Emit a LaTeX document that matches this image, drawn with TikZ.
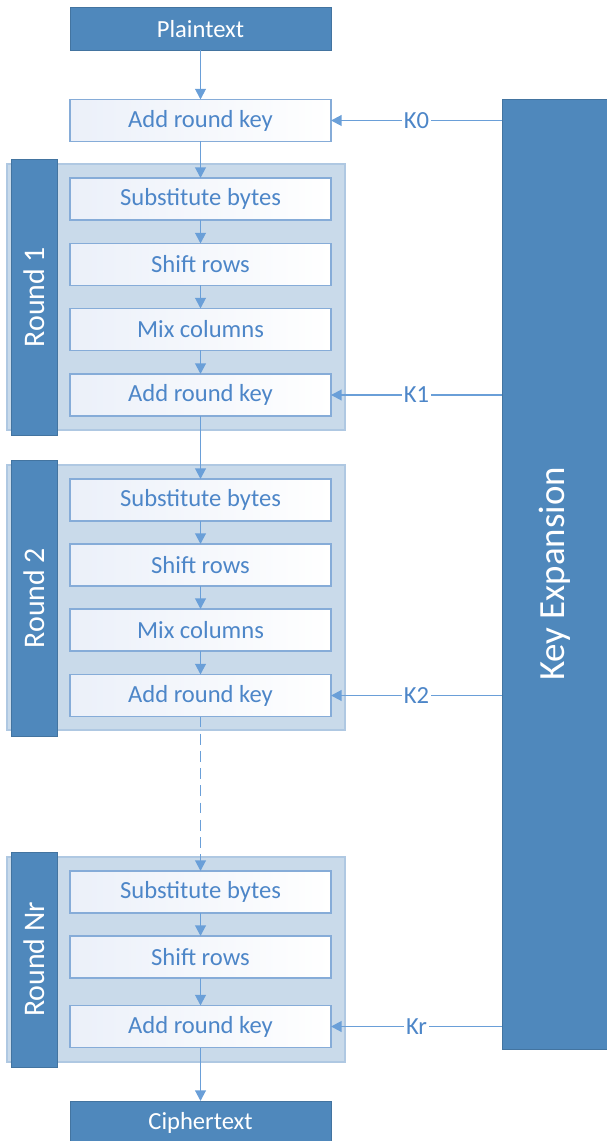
\documentclass[tikz,border=0pt]{standalone}
\usepackage{fontspec}
\setmainfont{Carlito}
\usepackage{xcolor}
\usetikzlibrary{arrows.meta, positioning}
\definecolor{darkblue}{HTML}{4F88BC}
\definecolor{groupfill}{HTML}{C9DAEA}
\definecolor{groupline}{HTML}{AFC8E2}
\definecolor{boxline}{HTML}{86ACD8}
\definecolor{boxshade}{HTML}{EBF0F9}
\definecolor{txtblue}{HTML}{4D86C8}
\definecolor{linecol}{HTML}{6A9FD8}

\begin{document}
\begin{tikzpicture}[x=0.02cm, y=-0.02cm,
    darkbox/.style={fill=darkblue, draw=darkblue!85!black, line width=0.4pt, text=white, minimum width=5.22cm, minimum height=0.86cm, inner sep=0pt, outer sep=0pt, font=\fontsize{14}{16}\selectfont},
    stepbox/.style={draw=boxline, line width=0.8pt, left color=boxshade, right color=white, text=txtblue, minimum width=5.22cm, minimum height=0.84cm, inner sep=0pt, outer sep=0pt, font=\fontsize{14}{16}\selectfont},
    roundbg/.style={draw=groupline, fill=groupfill, line width=0.8pt, minimum width=6.76cm, inner sep=0pt},
    roundtab/.style={fill=darkblue, draw=darkblue!85!black, line width=0.4pt, text=white, rotate=90, minimum height=0.92cm, inner sep=0pt, font=\fontsize{17}{20}\selectfont},
    flow/.style={draw=linecol, line width=1.1pt, -{Triangle[length=6pt, width=6pt]}},
    klabel/.style={fill=white, text=txtblue, inner sep=1pt, font=\fontsize{14}{16}\selectfont}]
    \useasboundingbox (0,0) rectangle (606,1141);

    % input and first key addition
    \node[darkbox] (plain) at (200.5, 29) {Plaintext};
    \node[stepbox] (add0) at (200.5, 120.5) {Add round key};

    % round 1
    \node[roundbg, minimum height=5.32cm] (bg1) at (176, 297) {};
    \node[roundtab, minimum width=5.52cm] (tab1) at (34, 297) {Round 1};
    \node[stepbox] (sub1) at (200.5, 199) {Substitute bytes};
    \node[stepbox] (shift1) at (200.5, 264.5) {Shift rows};
    \node[stepbox] (mix1) at (200.5, 329.5) {Mix columns};
    \node[stepbox] (add1) at (200.5, 395) {Add round key};

    % round 2
    \node[roundbg, minimum height=5.30cm] (bg2) at (176, 597.5) {};
    \node[roundtab, minimum width=5.52cm] (tab2) at (34, 598) {Round 2};
    \node[stepbox] (sub2) at (200.5, 500) {Substitute bytes};
    \node[stepbox] (shift2) at (200.5, 565) {Shift rows};
    \node[stepbox] (mix2) at (200.5, 630) {Mix columns};
    \node[stepbox] (add2) at (200.5, 695.5) {Add round key};

    % last round
    \node[roundbg, minimum height=4.10cm] (bg3) at (176, 959.5) {};
    \node[roundtab, minimum width=4.30cm] (tab3) at (34, 959.5) {Round Nr};
    \node[stepbox] (sub3) at (200.5, 892) {Substitute bytes};
    \node[stepbox] (shift3) at (200.5, 957) {Shift rows};
    \node[stepbox] (add3) at (200.5, 1026.5) {Add round key};

    \node[darkbox] (cipher) at (200.5, 1122.5) {Ciphertext};

    % key schedule
    \node[darkbox, rotate=90, minimum width=19cm, minimum height=2.12cm, font=\fontsize{21}{24}\selectfont] (kexp) at (555, 574) {Key Expansion};

    \draw[flow] (plain) -- (add0);
    \draw[flow] (add0) -- (sub1);
    \draw[flow] (sub1) -- (shift1);
    \draw[flow] (shift1) -- (mix1);
    \draw[flow] (mix1) -- (add1);
    \draw[flow] (add1) -- (sub2);
    \draw[flow] (sub2) -- (shift2);
    \draw[flow] (shift2) -- (mix2);
    \draw[flow] (mix2) -- (add2);
    \draw[flow, dash pattern=on 6.2pt off 3.6pt] (add2) -- (sub3);
    \draw[flow] (sub3) -- (shift3);
    \draw[flow] (shift3) -- (add3);
    \draw[flow] (add3) -- (cipher);

    \draw[flow] (kexp.north |- add0.east) -- node[klabel] {K0} (add0.east);
    \draw[flow] (kexp.north |- add1.east) -- node[klabel] {K1} (add1.east);
    \draw[flow] (kexp.north |- add2.east) -- node[klabel] {K2} (add2.east);
    \draw[flow] (kexp.north |- add3.east) -- node[klabel] {Kr} (add3.east);
\end{tikzpicture}
\end{document}
